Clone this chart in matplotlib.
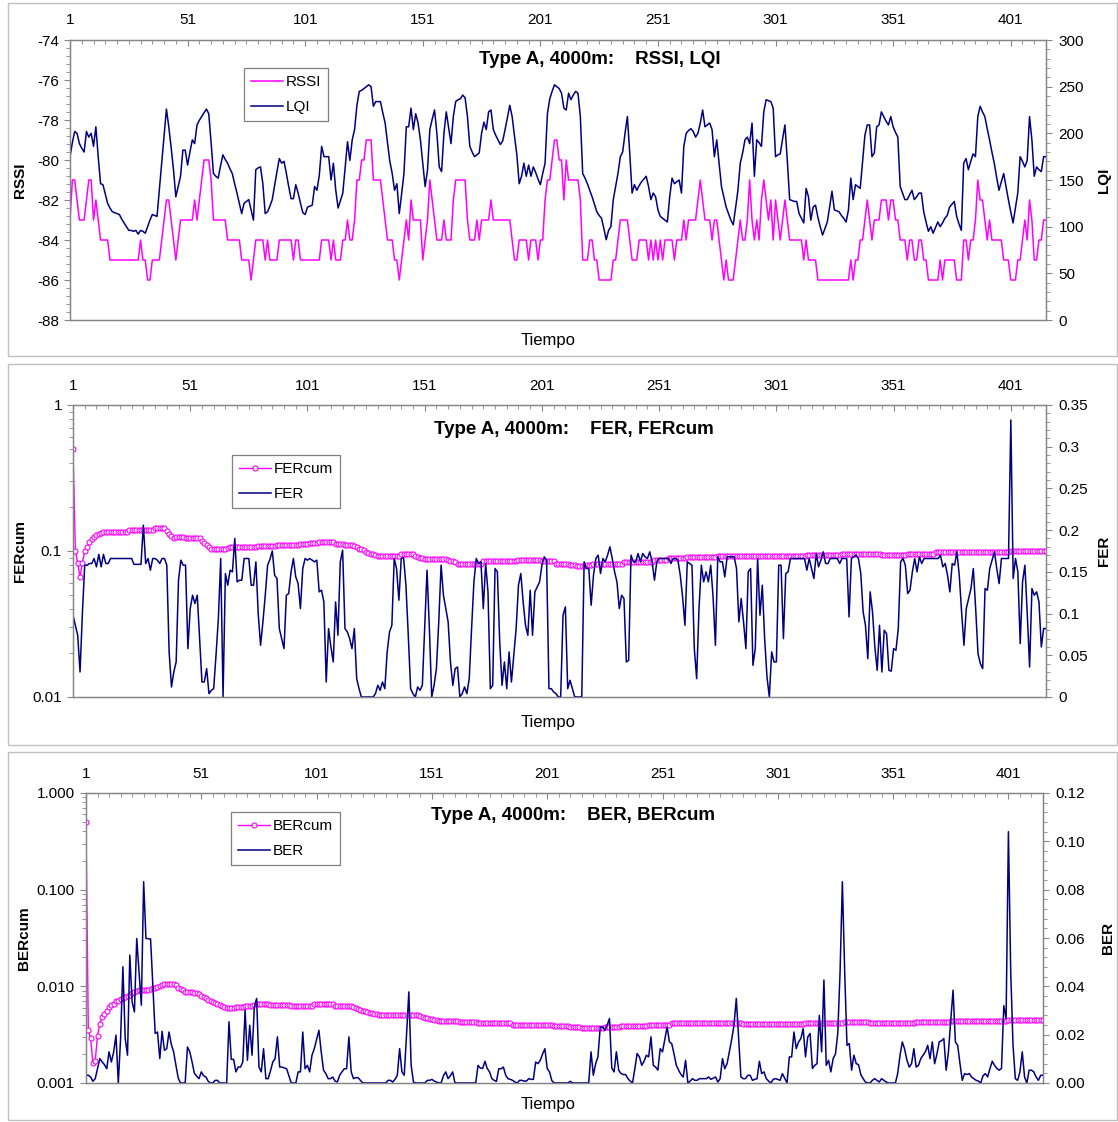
import numpy as np
import matplotlib
matplotlib.use("Agg")
import matplotlib.pyplot as plt
from matplotlib.patches import Rectangle
from matplotlib.ticker import MultipleLocator, FixedLocator, LogLocator, NullFormatter

plt.rcParams['font.family'] = ['Liberation Sans', 'DejaVu Sans']
plt.rcParams['axes.unicode_minus'] = False

W, H = 1118, 1122
MAGENTA = "#FF00FF"
NAVY = "#000080"
GRAY = "#868686"

X_TICKS = [1, 51, 101, 151, 201, 251, 301, 351, 401]

# ---- panel 1: RSSI (left) / LQI (right) ----
rssi = [
    -83, -81, -81, -82, -83, -83, -83, -82, -81, -81,
    -83, -82, -83, -84, -84, -84, -84, -85, -85, -85,
    -85, -85, -85, -85, -85, -85, -85, -85, -85, -85,
    -84, -85, -85, -86, -86, -85, -85, -85, -85, -84,
    -83, -82, -82, -83, -84, -85, -84, -83, -83, -83,
    -83, -83, -83, -82, -83, -82, -81, -80, -80, -80,
    -81, -83, -83, -83, -83, -83, -83, -84, -84, -84,
    -84, -84, -84, -85, -85, -85, -85, -86, -85, -84,
    -84, -84, -84, -85, -84, -85, -85, -85, -85, -84,
    -84, -84, -84, -84, -84, -85, -84, -84, -85, -85,
    -85, -85, -85, -85, -85, -85, -85, -84, -84, -84,
    -84, -85, -84, -85, -85, -85, -84, -84, -83, -84,
    -84, -83, -81, -81, -80, -80, -79, -79, -79, -81,
    -81, -81, -81, -82, -83, -84, -84, -84, -85, -85,
    -86, -85, -84, -83, -84, -82, -83, -83, -83, -83,
    -85, -84, -83, -81, -82, -83, -84, -84, -84, -83,
    -84, -84, -84, -82, -81, -81, -81, -81, -81, -83,
    -84, -84, -84, -83, -84, -83, -83, -83, -83, -82,
    -83, -83, -83, -83, -83, -83, -83, -83, -84, -85,
    -85, -84, -84, -84, -84, -85, -84, -84, -84, -85,
    -84, -84, -82, -81, -81, -80, -79, -79, -80, -80,
    -82, -80, -81, -81, -81, -81, -81, -82, -85, -85,
    -85, -84, -84, -85, -85, -86, -86, -86, -86, -86,
    -86, -85, -85, -84, -83, -83, -83, -83, -84, -85,
    -85, -85, -84, -84, -84, -84, -85, -84, -85, -84,
    -85, -84, -85, -84, -84, -84, -84, -85, -84, -84,
    -84, -83, -84, -83, -83, -83, -83, -82, -81, -82,
    -83, -83, -83, -84, -83, -83, -84, -85, -86, -85,
    -86, -86, -86, -85, -84, -83, -84, -84, -83, -81,
    -83, -84, -83, -84, -82, -81, -82, -83, -82, -84,
    -82, -83, -84, -83, -82, -83, -84, -84, -84, -84,
    -84, -84, -85, -84, -85, -85, -85, -85, -86, -86,
    -86, -86, -86, -86, -86, -86, -86, -86, -86, -86,
    -86, -86, -85, -86, -85, -85, -84, -84, -83, -82,
    -83, -84, -83, -83, -83, -82, -82, -82, -83, -82,
    -82, -83, -83, -84, -84, -84, -85, -84, -84, -85,
    -85, -84, -84, -85, -85, -86, -86, -86, -86, -86,
    -85, -86, -85, -85, -85, -85, -85, -86, -86, -86,
    -84, -84, -85, -84, -84, -83, -81, -82, -82, -83,
    -84, -83, -84, -84, -84, -84, -84, -85, -85, -85,
    -86, -86, -86, -85, -85, -84, -83, -84, -82, -83,
    -85, -85, -84, -84, -83, -83,
]

lqi = [
    175, 190, 202, 200, 189, 184, 180, 202, 196, 200,
    186, 207, 175, 146, 145, 135, 125, 120, 116, 115,
    114, 113, 108, 104, 100, 96, 96, 95, 96, 92,
    96, 95, 93, 100, 107, 113, 112, 111, 140, 168,
    197, 226, 207, 185, 161, 132, 143, 154, 182, 182,
    166, 180, 193, 189, 209, 214, 218, 222, 226, 221,
    190, 157, 154, 152, 165, 177, 172, 168, 162, 157,
    146, 136, 125, 114, 125, 127, 129, 118, 107, 161,
    163, 164, 146, 114, 116, 122, 129, 144, 159, 173,
    168, 170, 157, 143, 130, 130, 145, 136, 125, 115,
    113, 121, 122, 123, 143, 139, 155, 186, 175, 175,
    175, 150, 168, 139, 120, 128, 136, 164, 191, 171,
    193, 204, 230, 245, 246, 248, 250, 252, 250, 229,
    234, 234, 234, 222, 211, 190, 170, 157, 139, 146,
    114, 135, 157, 207, 207, 227, 204, 221, 211, 193,
    168, 143, 160, 204, 215, 225, 200, 164, 159, 200,
    223, 206, 189, 218, 234, 236, 237, 241, 238, 218,
    186, 180, 175, 177, 179, 200, 212, 204, 223, 225,
    204, 198, 193, 188, 192, 204, 217, 230, 218, 197,
    177, 146, 154, 168, 154, 166, 154, 164, 158, 151,
    145, 157, 168, 221, 237, 245, 252, 250, 248, 243,
    227, 225, 243, 236, 241, 245, 243, 218, 157, 152,
    146, 139, 132, 124, 116, 112, 109, 98, 86, 96,
    100, 129, 143, 157, 175, 180, 200, 218, 179, 136,
    145, 139, 144, 148, 151, 154, 143, 129, 136, 132,
    118, 111, 109, 107, 105, 132, 152, 146, 148, 150,
    136, 186, 200, 203, 205, 202, 196, 200, 211, 225,
    207, 209, 211, 204, 175, 193, 168, 143, 132, 121,
    114, 107, 102, 120, 139, 168, 179, 193, 196, 189,
    211, 154, 193, 190, 186, 223, 236, 235, 234, 227,
    175, 177, 178, 194, 209, 171, 129, 128, 127, 127,
    114, 109, 104, 141, 132, 107, 121, 123, 110, 100,
    91, 98, 105, 121, 138, 118, 117, 116, 112, 109,
    105, 118, 152, 129, 145, 143, 141, 170, 198, 209,
    209, 175, 179, 207, 209, 223, 218, 213, 209, 218,
    207, 201, 196, 143, 136, 129, 129, 134, 139, 129,
    132, 136, 136, 116, 105, 95, 100, 93, 99, 105,
    100, 104, 109, 112, 121, 124, 127, 111, 103, 96,
    168, 173, 161, 170, 178, 175, 218, 229, 223, 218,
    205, 193, 180, 168, 153, 139, 148, 157, 143, 129,
    116, 104, 120, 136, 175, 170, 164, 171, 218, 193,
    154, 164, 161, 159, 175, 175,
]

# ---- panel 2: FERcum (left, log) / FER (right) ----
fer_cum = [
    0.500, 0.100, 0.083, 0.066, 0.083, 0.100, 0.107, 0.115, 0.120, 0.125,
    0.129, 0.131, 0.133, 0.135, 0.135, 0.135, 0.135, 0.135, 0.135, 0.135,
    0.135, 0.135, 0.135, 0.135, 0.139, 0.139, 0.139, 0.139, 0.139, 0.139,
    0.139, 0.139, 0.139, 0.139, 0.139, 0.144, 0.144, 0.144, 0.144, 0.144,
    0.138, 0.130, 0.126, 0.122, 0.124, 0.124, 0.125, 0.125, 0.123, 0.122,
    0.122, 0.122, 0.122, 0.122, 0.122, 0.118, 0.114, 0.110, 0.107, 0.104,
    0.103, 0.103, 0.103, 0.103, 0.103, 0.103, 0.105, 0.106, 0.107, 0.107,
    0.107, 0.107, 0.107, 0.107, 0.107, 0.107, 0.107, 0.107, 0.107, 0.108,
    0.109, 0.109, 0.109, 0.109, 0.109, 0.109, 0.109, 0.110, 0.110, 0.110,
    0.110, 0.110, 0.110, 0.110, 0.110, 0.110, 0.110, 0.111, 0.111, 0.111,
    0.111, 0.113, 0.113, 0.113, 0.113, 0.115, 0.115, 0.115, 0.115, 0.115,
    0.115, 0.115, 0.112, 0.112, 0.112, 0.112, 0.110, 0.110, 0.110, 0.110,
    0.108, 0.106, 0.104, 0.103, 0.101, 0.099, 0.097, 0.096, 0.095, 0.094,
    0.093, 0.093, 0.093, 0.093, 0.093, 0.093, 0.093, 0.093, 0.093, 0.093,
    0.095, 0.095, 0.095, 0.095, 0.095, 0.095, 0.093, 0.091, 0.090, 0.089,
    0.088, 0.088, 0.088, 0.088, 0.088, 0.088, 0.088, 0.088, 0.088, 0.088,
    0.087, 0.086, 0.085, 0.084, 0.082, 0.082, 0.082, 0.082, 0.082, 0.082,
    0.082, 0.082, 0.082, 0.082, 0.082, 0.085, 0.085, 0.085, 0.085, 0.085,
    0.085, 0.085, 0.085, 0.085, 0.085, 0.085, 0.085, 0.085, 0.085, 0.085,
    0.087, 0.087, 0.087, 0.087, 0.087, 0.087, 0.087, 0.087, 0.087, 0.087,
    0.085, 0.085, 0.085, 0.085, 0.085, 0.085, 0.082, 0.082, 0.082, 0.082,
    0.082, 0.082, 0.080, 0.080, 0.080, 0.079, 0.079, 0.079, 0.079, 0.080,
    0.080, 0.080, 0.082, 0.082, 0.082, 0.082, 0.082, 0.082, 0.082, 0.082,
    0.082, 0.082, 0.082, 0.082, 0.082, 0.084, 0.084, 0.084, 0.084, 0.084,
    0.084, 0.084, 0.084, 0.084, 0.084, 0.084, 0.084, 0.084, 0.087, 0.087,
    0.087, 0.087, 0.087, 0.087, 0.090, 0.090, 0.090, 0.090, 0.090, 0.090,
    0.090, 0.090, 0.091, 0.091, 0.091, 0.091, 0.091, 0.091, 0.091, 0.091,
    0.091, 0.091, 0.091, 0.091, 0.091, 0.093, 0.093, 0.093, 0.093, 0.093,
    0.093, 0.093, 0.093, 0.093, 0.093, 0.093, 0.093, 0.093, 0.093, 0.093,
    0.093, 0.093, 0.093, 0.093, 0.093, 0.093, 0.093, 0.093, 0.093, 0.093,
    0.092, 0.092, 0.092, 0.092, 0.092, 0.092, 0.092, 0.092, 0.092, 0.092,
    0.092, 0.092, 0.092, 0.094, 0.094, 0.094, 0.094, 0.094, 0.094, 0.094,
    0.094, 0.094, 0.094, 0.094, 0.094, 0.094, 0.094, 0.094, 0.096, 0.096,
    0.096, 0.096, 0.096, 0.096, 0.096, 0.096, 0.096, 0.096, 0.096, 0.096,
    0.096, 0.096, 0.096, 0.096, 0.096, 0.094, 0.094, 0.094, 0.094, 0.094,
    0.094, 0.094, 0.094, 0.094, 0.094, 0.094, 0.096, 0.096, 0.096, 0.096,
    0.096, 0.096, 0.096, 0.096, 0.096, 0.096, 0.096, 0.096, 0.098, 0.098,
    0.098, 0.098, 0.098, 0.098, 0.098, 0.098, 0.098, 0.098, 0.098, 0.098,
    0.098, 0.098, 0.098, 0.098, 0.098, 0.099, 0.099, 0.099, 0.099, 0.099,
    0.099, 0.099, 0.099, 0.099, 0.099, 0.099, 0.099, 0.099, 0.099, 0.099,
    0.100, 0.100, 0.100, 0.100, 0.100, 0.100, 0.100, 0.100, 0.100, 0.100,
    0.100, 0.100, 0.100, 0.100, 0.100, 0.100,
]

fer = [
    0.098, 0.086, 0.074, 0.030, 0.100, 0.158, 0.158, 0.160, 0.160, 0.166,
    0.156, 0.171, 0.156, 0.171, 0.160, 0.160, 0.166, 0.166, 0.166, 0.166,
    0.166, 0.166, 0.166, 0.166, 0.166, 0.166, 0.159, 0.159, 0.159, 0.159,
    0.206, 0.160, 0.166, 0.152, 0.166, 0.166, 0.164, 0.160, 0.166, 0.166,
    0.158, 0.054, 0.012, 0.030, 0.042, 0.140, 0.164, 0.158, 0.158, 0.058,
    0.106, 0.122, 0.112, 0.122, 0.070, 0.018, 0.018, 0.034, 0.004, 0.008,
    0.010, 0.050, 0.094, 0.166, 0.000, 0.148, 0.134, 0.152, 0.150, 0.190,
    0.138, 0.140, 0.140, 0.166, 0.166, 0.166, 0.134, 0.134, 0.162, 0.100,
    0.062, 0.090, 0.122, 0.158, 0.165, 0.175, 0.146, 0.142, 0.082, 0.070,
    0.058, 0.122, 0.124, 0.150, 0.166, 0.144, 0.136, 0.106, 0.154, 0.166,
    0.164, 0.166, 0.164, 0.162, 0.164, 0.126, 0.128, 0.114, 0.018, 0.082,
    0.060, 0.042, 0.114, 0.074, 0.162, 0.176, 0.082, 0.078, 0.070, 0.058,
    0.082, 0.022, 0.010, 0.000, 0.000, 0.000, 0.000, 0.000, 0.000, 0.004,
    0.014, 0.008, 0.018, 0.010, 0.054, 0.078, 0.086, 0.166, 0.154, 0.116,
    0.166, 0.167, 0.134, 0.074, 0.010, 0.004, 0.000, 0.012, 0.008, 0.014,
    0.082, 0.152, 0.082, 0.000, 0.014, 0.034, 0.090, 0.158, 0.122, 0.106,
    0.090, 0.042, 0.014, 0.034, 0.036, 0.000, 0.004, 0.012, 0.004, 0.022,
    0.082, 0.138, 0.166, 0.160, 0.162, 0.106, 0.160, 0.126, 0.010, 0.014,
    0.154, 0.150, 0.066, 0.014, 0.042, 0.010, 0.054, 0.018, 0.050, 0.082,
    0.134, 0.148, 0.114, 0.086, 0.074, 0.128, 0.074, 0.126, 0.132, 0.138,
    0.158, 0.168, 0.164, 0.010, 0.010, 0.006, 0.004, 0.000, 0.000, 0.098,
    0.108, 0.010, 0.020, 0.010, 0.000, 0.000, 0.000, 0.000, 0.162, 0.154,
    0.154, 0.110, 0.146, 0.166, 0.170, 0.148, 0.166, 0.162, 0.170, 0.180,
    0.166, 0.150, 0.138, 0.106, 0.122, 0.118, 0.042, 0.044, 0.170, 0.162,
    0.162, 0.172, 0.162, 0.172, 0.168, 0.166, 0.174, 0.162, 0.140, 0.162,
    0.166, 0.166, 0.166, 0.166, 0.166, 0.160, 0.166, 0.166, 0.164, 0.146,
    0.120, 0.086, 0.162, 0.160, 0.158, 0.058, 0.022, 0.106, 0.158, 0.138,
    0.150, 0.138, 0.158, 0.120, 0.062, 0.168, 0.162, 0.162, 0.144, 0.168,
    0.168, 0.168, 0.168, 0.154, 0.090, 0.118, 0.090, 0.058, 0.150, 0.154,
    0.038, 0.058, 0.166, 0.098, 0.134, 0.070, 0.024, 0.000, 0.054, 0.042,
    0.042, 0.158, 0.158, 0.070, 0.148, 0.150, 0.166, 0.166, 0.166, 0.166,
    0.166, 0.166, 0.166, 0.152, 0.166, 0.154, 0.142, 0.172, 0.156, 0.164,
    0.174, 0.160, 0.160, 0.166, 0.166, 0.166, 0.166, 0.160, 0.166, 0.166,
    0.166, 0.096, 0.166, 0.168, 0.170, 0.166, 0.148, 0.102, 0.086, 0.046,
    0.126, 0.102, 0.060, 0.032, 0.086, 0.030, 0.080, 0.076, 0.032, 0.031,
    0.058, 0.056, 0.082, 0.162, 0.166, 0.158, 0.124, 0.128, 0.150, 0.166,
    0.150, 0.168, 0.160, 0.166, 0.166, 0.166, 0.166, 0.166, 0.166, 0.166,
    0.170, 0.156, 0.160, 0.146, 0.126, 0.160, 0.158, 0.174, 0.146, 0.102,
    0.062, 0.106, 0.118, 0.130, 0.154, 0.106, 0.052, 0.040, 0.034, 0.130,
    0.128, 0.154, 0.164, 0.174, 0.154, 0.136, 0.166, 0.166, 0.166, 0.166,
    0.332, 0.142, 0.166, 0.150, 0.064, 0.138, 0.158, 0.100, 0.036, 0.130,
    0.122, 0.126, 0.114, 0.060, 0.082, 0.082,
]

# ---- panel 3: BERcum (left, log) / BER (right) ----
ber_cum = [
    0.5000, 0.0035, 0.0029, 0.0016, 0.0017, 0.0031, 0.0041, 0.0048, 0.0052, 0.0055,
    0.0061, 0.0064, 0.0066, 0.0070, 0.0071, 0.0074, 0.0076, 0.0078, 0.0080, 0.0082,
    0.0085, 0.0087, 0.0089, 0.0092, 0.0092, 0.0092, 0.0092, 0.0092, 0.0093, 0.0095,
    0.0097, 0.0099, 0.0101, 0.0103, 0.0105, 0.0105, 0.0105, 0.0105, 0.0105, 0.0104,
    0.0097, 0.0094, 0.0091, 0.0088, 0.0088, 0.0088, 0.0087, 0.0086, 0.0085, 0.0083,
    0.0080, 0.0078, 0.0076, 0.0073, 0.0071, 0.0069, 0.0067, 0.0066, 0.0064, 0.0062,
    0.0061, 0.0060, 0.0060, 0.0060, 0.0060, 0.0061, 0.0061, 0.0061, 0.0061, 0.0062,
    0.0062, 0.0063, 0.0063, 0.0064, 0.0065, 0.0065, 0.0065, 0.0065, 0.0065, 0.0065,
    0.0064, 0.0064, 0.0064, 0.0064, 0.0064, 0.0064, 0.0064, 0.0064, 0.0064, 0.0063,
    0.0063, 0.0063, 0.0063, 0.0063, 0.0063, 0.0063, 0.0063, 0.0063, 0.0063, 0.0065,
    0.0065, 0.0065, 0.0065, 0.0065, 0.0065, 0.0065, 0.0065, 0.0065, 0.0063, 0.0063,
    0.0063, 0.0063, 0.0063, 0.0063, 0.0063, 0.0062, 0.0061, 0.0060, 0.0058, 0.0057,
    0.0056, 0.0055, 0.0054, 0.0053, 0.0053, 0.0052, 0.0052, 0.0051, 0.0051, 0.0050,
    0.0050, 0.0050, 0.0050, 0.0050, 0.0050, 0.0050, 0.0050, 0.0051, 0.0051, 0.0051,
    0.0051, 0.0051, 0.0051, 0.0051, 0.0050, 0.0049, 0.0048, 0.0047, 0.0047, 0.0046,
    0.0046, 0.0045, 0.0045, 0.0044, 0.0044, 0.0044, 0.0044, 0.0044, 0.0044, 0.0044,
    0.0044, 0.0044, 0.0043, 0.0043, 0.0043, 0.0043, 0.0043, 0.0043, 0.0043, 0.0043,
    0.0042, 0.0042, 0.0042, 0.0042, 0.0042, 0.0042, 0.0042, 0.0042, 0.0042, 0.0042,
    0.0042, 0.0042, 0.0042, 0.0042, 0.0042, 0.0040, 0.0040, 0.0040, 0.0040, 0.0040,
    0.0040, 0.0040, 0.0040, 0.0040, 0.0040, 0.0040, 0.0040, 0.0040, 0.0040, 0.0040,
    0.0040, 0.0040, 0.0040, 0.0039, 0.0039, 0.0039, 0.0039, 0.0039, 0.0039, 0.0039,
    0.0038, 0.0038, 0.0038, 0.0038, 0.0038, 0.0037, 0.0037, 0.0037, 0.0037, 0.0037,
    0.0037, 0.0037, 0.0037, 0.0037, 0.0037, 0.0038, 0.0038, 0.0038, 0.0038, 0.0038,
    0.0038, 0.0038, 0.0039, 0.0039, 0.0039, 0.0039, 0.0039, 0.0039, 0.0039, 0.0039,
    0.0039, 0.0039, 0.0039, 0.0039, 0.0040, 0.0040, 0.0040, 0.0040, 0.0040, 0.0040,
    0.0040, 0.0040, 0.0040, 0.0040, 0.0042, 0.0042, 0.0042, 0.0042, 0.0042, 0.0042,
    0.0042, 0.0042, 0.0042, 0.0042, 0.0042, 0.0042, 0.0042, 0.0042, 0.0042, 0.0042,
    0.0042, 0.0042, 0.0042, 0.0042, 0.0042, 0.0042, 0.0042, 0.0042, 0.0042, 0.0042,
    0.0042, 0.0042, 0.0042, 0.0042, 0.0042, 0.0041, 0.0041, 0.0041, 0.0041, 0.0041,
    0.0041, 0.0041, 0.0041, 0.0041, 0.0041, 0.0041, 0.0041, 0.0041, 0.0041, 0.0041,
    0.0041, 0.0041, 0.0041, 0.0041, 0.0041, 0.0041, 0.0041, 0.0041, 0.0041, 0.0041,
    0.0041, 0.0041, 0.0042, 0.0042, 0.0042, 0.0042, 0.0042, 0.0042, 0.0042, 0.0042,
    0.0042, 0.0042, 0.0042, 0.0042, 0.0042, 0.0042, 0.0042, 0.0042, 0.0042, 0.0043,
    0.0043, 0.0043, 0.0043, 0.0043, 0.0043, 0.0043, 0.0043, 0.0043, 0.0043, 0.0043,
    0.0042, 0.0042, 0.0042, 0.0042, 0.0042, 0.0042, 0.0042, 0.0042, 0.0042, 0.0042,
    0.0042, 0.0042, 0.0042, 0.0042, 0.0042, 0.0042, 0.0042, 0.0042, 0.0042, 0.0042,
    0.0043, 0.0043, 0.0043, 0.0043, 0.0043, 0.0043, 0.0043, 0.0043, 0.0043, 0.0043,
    0.0043, 0.0043, 0.0043, 0.0043, 0.0043, 0.0044, 0.0044, 0.0044, 0.0044, 0.0044,
    0.0044, 0.0044, 0.0044, 0.0044, 0.0044, 0.0044, 0.0044, 0.0044, 0.0044, 0.0044,
    0.0044, 0.0044, 0.0044, 0.0044, 0.0044, 0.0044, 0.0044, 0.0044, 0.0044, 0.0044,
    0.0045, 0.0045, 0.0045, 0.0045, 0.0045, 0.0045, 0.0045, 0.0045, 0.0045, 0.0045,
    0.0045, 0.0045, 0.0045, 0.0045, 0.0045, 0.0045,
]

ber = [
    0.0032, 0.0032, 0.0025, 0.0007, 0.0018, 0.0059, 0.0101, 0.0087, 0.0076, 0.0059,
    0.0129, 0.0087, 0.0129, 0.0198, 0.0000, 0.0184, 0.0481, 0.0184, 0.0115, 0.0529,
    0.0336, 0.0294, 0.0598, 0.0460, 0.0322, 0.0833, 0.0598, 0.0597, 0.0596, 0.0405,
    0.0205, 0.0211, 0.0101, 0.0214, 0.0135, 0.0142, 0.0211, 0.0160, 0.0129, 0.0073,
    0.0020, 0.0000, 0.0000, 0.0000, 0.0149, 0.0129, 0.0087, 0.0040, 0.0028, 0.0018,
    0.0046, 0.0030, 0.0025, 0.0007, 0.0000, 0.0000, 0.0011, 0.0011, 0.0000, 0.0000,
    0.0000, 0.0000, 0.0253, 0.0098, 0.0098, 0.0046, 0.0066, 0.0066, 0.0087, 0.0301,
    0.0094, 0.0239, 0.0115, 0.0315, 0.0350, 0.0066, 0.0046, 0.0142, 0.0018, 0.0018,
    0.0050, 0.0087, 0.0101, 0.0191, 0.0066, 0.0066, 0.0062, 0.0059, 0.0030, 0.0000,
    0.0000, 0.0000, 0.0046, 0.0046, 0.0211, 0.0059, 0.0073, 0.0046, 0.0115, 0.0142,
    0.0180, 0.0218, 0.0129, 0.0053, 0.0039, 0.0018, 0.0018, 0.0025, 0.0008, 0.0004,
    0.0032, 0.0046, 0.0059, 0.0059, 0.0191, 0.0046, 0.0018, 0.0022, 0.0022, 0.0011,
    0.0000, 0.0000, 0.0000, 0.0000, 0.0000, 0.0000, 0.0000, 0.0000, 0.0000, 0.0000,
    0.0000, 0.0011, 0.0011, 0.0004, 0.0015, 0.0032, 0.0142, 0.0046, 0.0032, 0.0200,
    0.0377, 0.0073, 0.0004, 0.0000, 0.0000, 0.0000, 0.0000, 0.0000, 0.0011, 0.0011,
    0.0015, 0.0008, 0.0004, 0.0000, 0.0000, 0.0030, 0.0046, 0.0018, 0.0030, 0.0046,
    0.0000, 0.0000, 0.0000, 0.0000, 0.0000, 0.0000, 0.0000, 0.0000, 0.0000, 0.0000,
    0.0073, 0.0062, 0.0060, 0.0090, 0.0060, 0.0046, 0.0018, 0.0011, 0.0007, 0.0059,
    0.0059, 0.0066, 0.0032, 0.0018, 0.0015, 0.0011, 0.0004, 0.0000, 0.0011, 0.0011,
    0.0008, 0.0008, 0.0018, 0.0015, 0.0015, 0.0087, 0.0080, 0.0094, 0.0120, 0.0142,
    0.0060, 0.0046, 0.0010, 0.0000, 0.0000, 0.0000, 0.0000, 0.0000, 0.0000, 0.0000,
    0.0007, 0.0000, 0.0000, 0.0000, 0.0000, 0.0000, 0.0000, 0.0000, 0.0000, 0.0129,
    0.0032, 0.0080, 0.0108, 0.0232, 0.0232, 0.0218, 0.0239, 0.0267, 0.0062, 0.0046,
    0.0129, 0.0053, 0.0039, 0.0035, 0.0035, 0.0018, 0.0008, 0.0000, 0.0059, 0.0122,
    0.0108, 0.0073, 0.0090, 0.0115, 0.0108, 0.0191, 0.0073, 0.0066, 0.0053, 0.0142,
    0.0129, 0.0180, 0.0232, 0.0170, 0.0163, 0.0120, 0.0073, 0.0053, 0.0035, 0.0025,
    0.0094, 0.0000, 0.0008, 0.0018, 0.0011, 0.0011, 0.0018, 0.0018, 0.0018, 0.0018,
    0.0025, 0.0015, 0.0020, 0.0025, 0.0004, 0.0018, 0.0101, 0.0059, 0.0080, 0.0129,
    0.0180, 0.0239, 0.0350, 0.0184, 0.0025, 0.0018, 0.0018, 0.0032, 0.0032, 0.0011,
    0.0015, 0.0018, 0.0090, 0.0039, 0.0046, 0.0018, 0.0008, 0.0000, 0.0015, 0.0018,
    0.0015, 0.0011, 0.0039, 0.0020, 0.0000, 0.0108, 0.0108, 0.0211, 0.0142, 0.0170,
    0.0184, 0.0225, 0.0108, 0.0191, 0.0205, 0.0060, 0.0073, 0.0080, 0.0280, 0.0129,
    0.0426, 0.0073, 0.0094, 0.0046, 0.0101, 0.0120, 0.0205, 0.0460, 0.0833, 0.0460,
    0.0156, 0.0163, 0.0053, 0.0115, 0.0080, 0.0076, 0.0035, 0.0018, 0.0004, 0.0000,
    0.0000, 0.0011, 0.0018, 0.0011, 0.0004, 0.0018, 0.0011, 0.0004, 0.0000, 0.0000,
    0.0000, 0.0000, 0.0040, 0.0115, 0.0170, 0.0140, 0.0094, 0.0066, 0.0080, 0.0142,
    0.0066, 0.0073, 0.0101, 0.0115, 0.0129, 0.0156, 0.0101, 0.0170, 0.0080, 0.0120,
    0.0170, 0.0175, 0.0184, 0.0053, 0.0129, 0.0260, 0.0384, 0.0170, 0.0156, 0.0080,
    0.0011, 0.0039, 0.0035, 0.0039, 0.0025, 0.0018, 0.0011, 0.0008, 0.0000, 0.0030,
    0.0039, 0.0025, 0.0060, 0.0090, 0.0073, 0.0060, 0.0053, 0.0060, 0.0320, 0.0267,
    0.1040, 0.0460, 0.0156, 0.0018, 0.0011, 0.0046, 0.0129, 0.0025, 0.0000, 0.0053,
    0.0053, 0.0046, 0.0025, 0.0011, 0.0032, 0.0032,
]

N = 416

fig = plt.figure(figsize=(W / 100, H / 100), dpi=100)


def fx(x):
    return x / W


def fy(y):
    return 1 - y / H


def frame(top, bottom):
    fig.patches.append(Rectangle((fx(8), fy(bottom)), fx(1109), (bottom - top) / H,
                                 transform=fig.transFigure, fill=False,
                                 ec="#C0C0C0", lw=1.0))


def make_axes(left, top, right, bottom):
    ax = fig.add_axes([fx(left), fy(bottom), (right - left) / W, (bottom - top) / H])
    ax2 = ax.twinx()
    ax.set_xlim(1, N)
    ax.xaxis.tick_top()
    ax.set_xticks(X_TICKS)
    ax.xaxis.set_minor_locator(FixedLocator(list(range(1, N + 1, 5))))
    ax.tick_params(axis="x", which="both", direction="in", top=True, bottom=False,
                   labelsize=11, pad=9, color=GRAY)
    ax.tick_params(axis="x", which="major", length=4)
    ax.tick_params(axis="x", which="minor", length=3)
    for a in (ax, ax2):
        for s in a.spines.values():
            s.set_color(GRAY)
            s.set_linewidth(0.9)
    ax.tick_params(axis="y", which="both", direction="out", labelsize=11, color=GRAY, pad=4)
    ax.tick_params(axis="y", which="major", length=4)
    ax.tick_params(axis="y", which="minor", length=3)
    ax2.tick_params(axis="y", which="both", direction="out", labelsize=11, color=GRAY, pad=5)
    ax2.tick_params(axis="y", which="major", length=4)
    ax2.tick_params(axis="y", which="minor", length=3)
    return ax, ax2


def deco(title, tx, ty, xlab_y, left_lab, lx, right_lab, rx, ly):
    fig.text(fx(tx), fy(ty), title, ha="center", va="baseline",
             fontsize=13.5, fontweight="bold")
    fig.text(fx(548), fy(xlab_y), "Tiempo", ha="center", va="center", fontsize=12)
    fig.text(fx(lx), fy(ly), left_lab, ha="center", va="center", rotation=90,
             fontsize=11, fontweight="bold")
    fig.text(fx(rx), fy(ly), right_lab, ha="center", va="center", rotation=90,
             fontsize=11, fontweight="bold")


def legend(handles, x, y):
    leg = fig.legend(handles=handles, loc="upper left", bbox_to_anchor=(fx(x), fy(y)),
                     bbox_transform=fig.transFigure, fontsize=11, frameon=True,
                     fancybox=False, edgecolor="#808080", framealpha=1,
                     handlelength=2.1, handletextpad=0.2, borderpad=0.45,
                     labelspacing=0.75, numpoints=1, borderaxespad=0)
    leg.get_frame().set_linewidth(0.9)


# ---------- panel 1 ----------
frame(3, 356)
ax, ax2 = make_axes(70, 40, 1046, 320)
ln1, = ax.plot(np.arange(1, len(rssi) + 1), rssi, color=MAGENTA, lw=1.1, label="RSSI")
ln2, = ax2.plot(np.arange(1, len(lqi) + 1), lqi, color=NAVY, lw=1.1, label="LQI")
ax.set_ylim(-88, -74)
ax.set_yticks(range(-88, -73, 2))
ax.yaxis.set_minor_locator(MultipleLocator(0.4))
ax2.set_ylim(0, 300)
ax2.set_yticks(range(0, 301, 50))
ax2.yaxis.set_minor_locator(MultipleLocator(10))
deco("Type A, 4000m:    RSSI, LQI", 600, 64, 341, "RSSI", 20, "LQI", 1104, 180)
legend([ln1, ln2], 244, 68)

# ---------- panel 2 ----------
frame(364, 745)
ax, ax2 = make_axes(73, 405, 1046, 697)
ln1, = ax.plot(np.arange(1, len(fer_cum) + 1), fer_cum, color=MAGENTA, lw=1.0,
               marker="o", ms=3.6, mfc="white", mec=MAGENTA, mew=0.8, label="FERcum")
ln2, = ax2.plot(np.arange(1, len(fer) + 1), fer, color=NAVY, lw=1.1, label="FER")
ax.set_yscale("log")
ax.set_ylim(0.01, 1)
ax.set_yticks([0.01, 0.1, 1], ["0.01", "0.1", "1"])
ax.yaxis.set_minor_locator(LogLocator(base=10, subs=np.arange(2, 10)))
ax.yaxis.set_minor_formatter(NullFormatter())
ax2.set_ylim(0, 0.35)
ax2.set_yticks([0, 0.05, 0.1, 0.15, 0.2, 0.25, 0.3, 0.35],
               ["0", "0.05", "0.1", "0.15", "0.2", "0.25", "0.3", "0.35"])
ax2.yaxis.set_minor_locator(MultipleLocator(0.01))
deco("Type A, 4000m:    FER, FERcum", 574, 434, 723, "FERcum", 20, "FER", 1104, 551)
legend([ln1, ln2], 232, 455)

# ---------- panel 3 ----------
frame(752, 1120)
ax, ax2 = make_axes(86, 793, 1043, 1083)
ln1, = ax.plot(np.arange(1, len(ber_cum) + 1), ber_cum, color=MAGENTA, lw=1.0,
               marker="o", ms=3.6, mfc="white", mec=MAGENTA, mew=0.8, label="BERcum")
ln2, = ax2.plot(np.arange(1, len(ber) + 1), ber, color=NAVY, lw=1.1, label="BER")
ax.set_yscale("log")
ax.set_ylim(0.001, 1)
ax.set_yticks([0.001, 0.01, 0.1, 1], ["0.001", "0.010", "0.100", "1.000"])
ax.yaxis.set_minor_locator(LogLocator(base=10, subs=np.arange(2, 10)))
ax.yaxis.set_minor_formatter(NullFormatter())
ax2.set_ylim(0, 0.12)
ax2.set_yticks([0, 0.02, 0.04, 0.06, 0.08, 0.10, 0.12],
               ["0.00", "0.02", "0.04", "0.06", "0.08", "0.10", "0.12"])
ax2.yaxis.set_minor_locator(MultipleLocator(0.004))
deco("Type A, 4000m:    BER, BERcum", 573, 820, 1104, "BERcum", 24, "BER", 1108, 938)
legend([ln1, ln2], 231, 812)

fig.savefig("out.png", dpi=100)
